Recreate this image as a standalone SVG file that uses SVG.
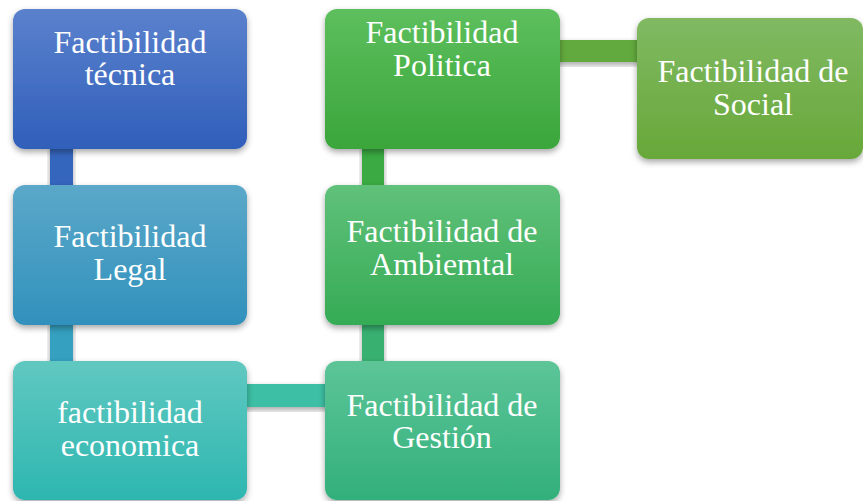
<svg xmlns="http://www.w3.org/2000/svg" width="863" height="501" viewBox="0 0 863 501">
<defs>
<filter id="sh" x="-10%" y="-10%" width="120%" height="130%">
<feDropShadow dx="0" dy="3" stdDeviation="3" flood-color="#000" flood-opacity="0.35"/>
</filter>
<linearGradient id="g1" x1="0" y1="0" x2="0" y2="1"><stop offset="0" stop-color="#5b81cd"/><stop offset="1" stop-color="#2f5fba"/></linearGradient>
<linearGradient id="g2" x1="0" y1="0" x2="0" y2="1"><stop offset="0" stop-color="#5ba8c9"/><stop offset="1" stop-color="#3191bc"/></linearGradient>
<linearGradient id="g3" x1="0" y1="0" x2="0" y2="1"><stop offset="0" stop-color="#60c8c1"/><stop offset="1" stop-color="#2db7b0"/></linearGradient>
<linearGradient id="g4" x1="0" y1="0" x2="0" y2="1"><stop offset="0" stop-color="#5dc598"/><stop offset="1" stop-color="#32b07b"/></linearGradient>
<linearGradient id="g5" x1="0" y1="0" x2="0" y2="1"><stop offset="0" stop-color="#60c17a"/><stop offset="1" stop-color="#35ab55"/></linearGradient>
<linearGradient id="g6" x1="0" y1="0" x2="0" y2="1"><stop offset="0" stop-color="#5dbf5d"/><stop offset="1" stop-color="#3aa63a"/></linearGradient>
<linearGradient id="g7" x1="0" y1="0" x2="0" y2="1"><stop offset="0" stop-color="#80b962"/><stop offset="1" stop-color="#68a839"/></linearGradient>
</defs>
<style>
.box{filter:url(#sh)}
.t{font-size:32px;fill:#fff;text-anchor:middle}
.c{filter:url(#sh)}
</style>
<g id="connectors">
<rect class="c" x="50" y="145" width="23" height="44" fill="#3466be"/>
<rect class="c" x="50" y="321" width="23" height="44" fill="#35a0c0"/>
<rect class="c" x="243" y="384" width="86" height="23" fill="#3dbfa5"/>
<rect class="c" x="362" y="321" width="22" height="44" fill="#38b070"/>
<rect class="c" x="362" y="145" width="22" height="44" fill="#3aaa42"/>
<rect class="c" x="556" y="40" width="85" height="22" fill="#62aa3c"/>
</g>
<g font-family="'Liberation Serif', 'Times New Roman', 'DejaVu Serif', serif">
<g id="n1"><rect class="box" x="13" y="9" width="234" height="140" rx="12" fill="url(#g1)"/>
<text class="t" x="130" y="53">Factibilidad</text><text class="t" x="130" y="85">técnica</text></g>
<g id="n2"><rect class="box" x="13" y="185" width="234" height="140" rx="12" fill="url(#g2)"/>
<text class="t" x="130" y="247">Factibilidad</text><text class="t" x="130" y="280">Legal</text></g>
<g id="n3"><rect class="box" x="13" y="361" width="234" height="139" rx="12" fill="url(#g3)"/>
<text class="t" x="130" y="423">factibilidad</text><text class="t" x="130" y="456">economica</text></g>
<g id="n4"><rect class="box" x="325" y="361" width="235" height="139" rx="12" fill="url(#g4)"/>
<text class="t" x="442" y="416">Factibilidad de</text><text class="t" x="442" y="448">Gestión</text></g>
<g id="n5"><rect class="box" x="325" y="185" width="235" height="140" rx="12" fill="url(#g5)"/>
<text class="t" x="442" y="242">Factibilidad de</text><text class="t" x="442" y="275">Ambiemtal</text></g>
<g id="n6"><rect class="box" x="325" y="9" width="235" height="140" rx="12" fill="url(#g6)"/>
<text class="t" x="442" y="43">Factibilidad</text><text class="t" x="442" y="76">Politica</text></g>
<g id="n7"><rect class="box" x="637" y="18" width="226" height="141" rx="12" fill="url(#g7)"/>
<text class="t" x="753" y="82">Factibilidad de</text><text class="t" x="753" y="115">Social</text></g>
</g>
</svg>
